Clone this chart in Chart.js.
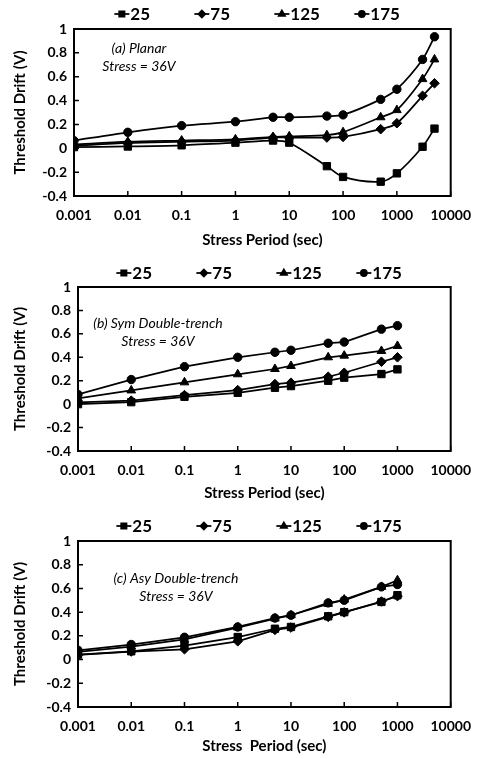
<!DOCTYPE html>
<html>
<head>
<meta charset="utf-8">
<script src="https://cdn.jsdelivr.net/npm/chart.js@4.4.1/dist/chart.umd.min.js"></script>
<style>
    body { margin: 0; background: #fff; }
    canvas { display: block; }
</style>
</head>
<body>
<canvas id="chartA" width="482" height="253"></canvas>
<canvas id="chartB" width="482" height="253"></canvas>
<canvas id="chartC" width="482" height="253"></canvas>
<script>
// Stress period (sec)
const periodA = [0.001, 0.01, 0.1, 1, 5, 10, 50, 100, 500, 1000, 3000, 5000];
const periodBC = [0.001, 0.01, 0.1, 1, 5, 10, 50, 100, 500, 1000];

// Series labels (temperature) and their markers
const temps = ['25', '75', '125', '175'];
const markers = ['rect', 'rectRot', 'triangle', 'circle'];
const markerRadius = [5.2, 4.8, 5, 4.2];

// (a) Planar
const planar25  = [0.01, 0.015, 0.025, 0.047, 0.065, 0.047, -0.15, -0.24, -0.28, -0.21, 0.013, 0.165];
const planar75  = [0.02, 0.045, 0.055, 0.065, 0.09, 0.09, 0.09, 0.095, 0.16, 0.21, 0.44, 0.545];
const planar125 = [0.03, 0.055, 0.065, 0.075, 0.095, 0.1, 0.11, 0.135, 0.26, 0.32, 0.58, 0.745];
const planar175 = [0.064, 0.134, 0.19, 0.223, 0.26, 0.26, 0.27, 0.28, 0.41, 0.495, 0.745, 0.935];

// (b) Sym Double-trench
const sym25  = [0.0, 0.017, 0.063, 0.097, 0.14, 0.154, 0.2, 0.226, 0.257, 0.297];
const sym75  = [0.015, 0.03, 0.077, 0.12, 0.171, 0.183, 0.234, 0.268, 0.362, 0.40];
const sym125 = [0.05, 0.117, 0.186, 0.255, 0.30, 0.326, 0.40, 0.414, 0.454, 0.497];
const sym175 = [0.083, 0.21, 0.32, 0.40, 0.443, 0.46, 0.52, 0.53, 0.64, 0.67];

// (c) Asy Double-trench
const asy25  = [0.042, 0.07, 0.118, 0.19, 0.26, 0.275, 0.365, 0.40, 0.486, 0.543];
const asy75  = [0.04, 0.068, 0.087, 0.154, 0.25, 0.27, 0.36, 0.398, 0.49, 0.535];
const asy125 = [0.065, 0.11, 0.17, 0.27, 0.346, 0.374, 0.47, 0.506, 0.613, 0.669];
const asy175 = [0.078, 0.127, 0.188, 0.275, 0.35, 0.374, 0.478, 0.5, 0.613, 0.633];

// Tick labels
const xTicks = [0.001, 0.01, 0.1, 1, 10, 100, 1000, 10000];
const yTicks = [-0.4, -0.2, 0, 0.2, 0.4, 0.6, 0.8, 1];

const FONT = 'Lato, "Open Sans", sans-serif';

// frame, inside tick marks, legend and the panel note
const decorPlugin = {
    id: 'decor',
    afterDraw(chart, args, opts) {
        const { ctx, chartArea: a, scales: { x, y } } = chart;
        ctx.save();
        ctx.strokeStyle = '#000';
        ctx.fillStyle = '#000';
        ctx.lineWidth = 2;
        ctx.strokeRect(a.left, a.top, a.right - a.left, a.bottom - a.top);

        ctx.lineWidth = 1.5;
        ctx.beginPath();
        xTicks.forEach(v => {
            const px = x.getPixelForValue(v);
            ctx.moveTo(px, a.bottom);
            ctx.lineTo(px, a.bottom - 5);
        });
        yTicks.forEach(v => {
            const py = y.getPixelForValue(v);
            ctx.moveTo(a.left, py);
            ctx.lineTo(a.left + 5, py);
        });
        ctx.stroke();

        // legend
        const cx = (a.left + a.right) / 2;
        ctx.font = 'bold 17px ' + FONT;
        ctx.textAlign = 'left';
        ctx.textBaseline = 'middle';
        temps.forEach((t, i) => {
            const sx = cx - 148 + i * 80;
            ctx.lineWidth = 1.75;
            ctx.beginPath();
            ctx.moveTo(sx, opts.legendY);
            ctx.lineTo(sx + 15, opts.legendY);
            ctx.stroke();
            Chart.helpers.drawPoint(ctx, {
                pointStyle: markers[i], radius: markerRadius[i] * 0.72, rotation: 0, borderWidth: 1
            }, sx + 7.5, opts.legendY);
            ctx.fill();
            ctx.fillText(t, sx + 16, opts.legendY + 1);
        });

        // note
        ctx.font = 'italic 14px ' + FONT;
        ctx.textAlign = 'center';
        opts.note.forEach((line, i) => {
            ctx.fillText(line, opts.noteX, opts.noteY + i * 18);
        });
        ctx.restore();
    }
};

function makeChart(id, periods, series, cfg) {
    const ctx = document.getElementById(id).getContext('2d');
    const datasets = series.map((vals, i) => ({
        label: temps[i],
        data: periods.map((p, k) => ({ x: p, y: vals[k] })),
        showLine: true,
        borderColor: '#000',
        backgroundColor: '#000',
        borderWidth: 1.75,
        pointStyle: markers[i],
        pointRadius: markerRadius[i],
        pointBorderWidth: 1,
        tension: cfg.tension
    }));

    return new Chart(ctx, {
        type: 'scatter',
        data: { datasets: datasets },
        plugins: [decorPlugin],
        options: {
            responsive: false,
            animation: false,
            layout: { padding: { top: cfg.top, left: 3, right: cfg.right, bottom: 0 } },
            plugins: {
                legend: { display: false },
                tooltip: { enabled: false },
                decor: { legendY: cfg.legendY, note: cfg.note, noteX: cfg.noteX, noteY: cfg.noteY }
            },
            scales: {
                x: {
                    type: 'logarithmic',
                    min: 0.001,
                    max: 10000,
                    afterBuildTicks: s => { s.ticks = xTicks.map(v => ({ value: v })); },
                    afterFit: s => { s.height = cfg.xHeight; },
                    grid: { display: false, drawTicks: false },
                    border: { display: false },
                    ticks: {
                        autoSkip: false,
                        maxRotation: 0,
                        padding: 11,
                        color: '#000',
                        font: { family: FONT, size: 14, weight: 'bold' },
                        callback: v => String(v)
                    },
                    title: {
                        display: true,
                        text: cfg.xTitle,
                        color: '#000',
                        font: { family: FONT, size: 15, weight: 'bold' },
                        padding: { top: 0, bottom: 4 }
                    }
                },
                y: {
                    min: -0.4,
                    max: 1,
                    afterBuildTicks: s => { s.ticks = yTicks.map(v => ({ value: v })); },
                    afterFit: s => { s.width = cfg.yWidth; },
                    grid: { display: false, drawTicks: false },
                    border: { display: false },
                    ticks: {
                        padding: 7,
                        color: '#000',
                        font: { family: FONT, size: 14, weight: 'bold' },
                        callback: v => String(v)
                    },
                    title: {
                        display: true,
                        text: 'Threshold Drift (V)',
                        color: '#000',
                        font: { family: FONT, size: 15, weight: 'bold' },
                        padding: { top: 8, bottom: 0 }
                    }
                }
            }
        }
    });
}

document.addEventListener('DOMContentLoaded', function () {
    makeChart('chartA', periodA, [planar25, planar75, planar125, planar175], {
        top: 29, right: 25, xHeight: 57, yWidth: 71, tension: 0.3,
        legendY: 14, note: ['(a) Planar', 'Stress = 36V'], noteX: 139, noteY: 48,
        xTitle: 'Stress Period (sec)'
    });
    makeChart('chartB', periodBC, [sym25, sym75, sym125, sym175], {
        top: 34, right: 24, xHeight: 55, yWidth: 75, tension: 0,
        legendY: 20, note: ['(b) Sym Double-trench', 'Stress = 36V'], noteX: 158, noteY: 70,
        xTitle: 'Stress Period (sec)'
    });
    makeChart('chartC', periodBC, [asy25, asy75, asy125, asy175], {
        top: 35, right: 23, xHeight: 52, yWidth: 75, tension: 0,
        legendY: 20, note: ['(c) Asy Double-trench', 'Stress = 36V'], noteX: 176, noteY: 72,
        xTitle: 'Stress  Period (sec)'
    });
});
</script>
</body>
</html>
